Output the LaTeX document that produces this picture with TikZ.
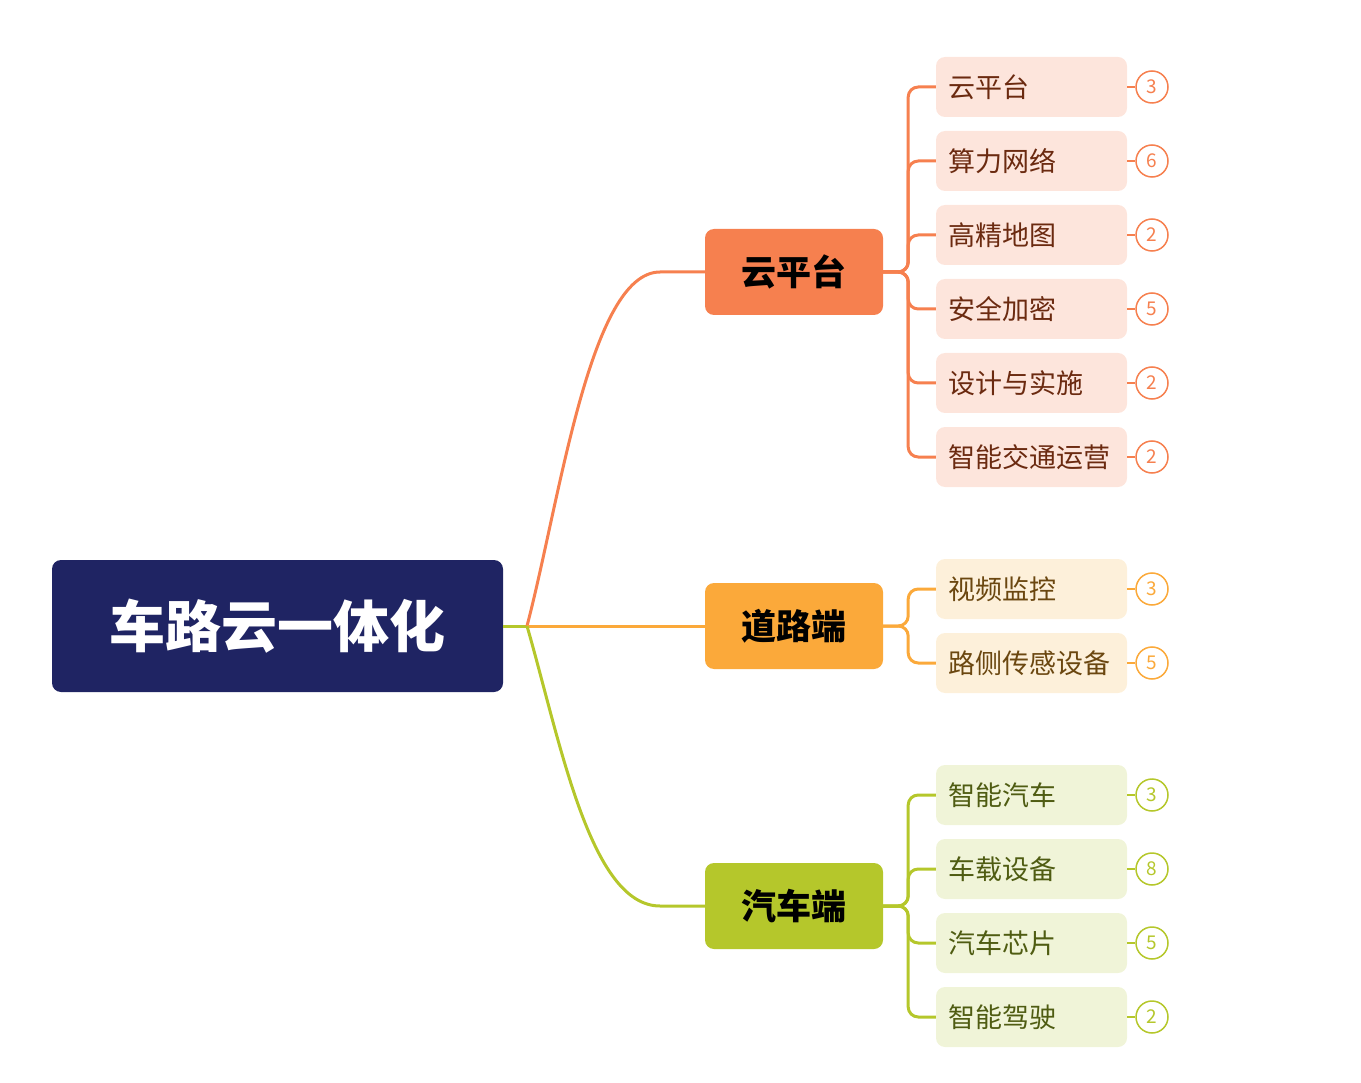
\documentclass[tikz,border=0pt]{standalone}
\usepackage{fontspec}
\setmainfont{Noto Sans CJK SC}
\definecolor{rootc}{HTML}{1F2463}
\definecolor{ca}{HTML}{F6804F}\definecolor{la}{HTML}{FDE5DC}\definecolor{ta}{HTML}{6B2A10}
\definecolor{cb}{HTML}{FBA93A}\definecolor{lb}{HTML}{FDF0DA}\definecolor{tb}{HTML}{6B4710}
\definecolor{cc}{HTML}{B5C72B}\definecolor{lc}{HTML}{F0F4D8}\definecolor{tc}{HTML}{4F5C12}
\tikzset{
 rootbox/.style={fill=rootc,rounded corners=9pt,minimum width=451pt,minimum height=132pt,text=white,font=\fontsize{56}{60}\selectfont\bfseries},
 brbox/.style={fill=#1,rounded corners=9pt,minimum width=178pt,minimum height=86pt,font=\fontsize{35}{40}\selectfont\bfseries},
 leafbox/.style={fill=#1,rounded corners=9pt,minimum width=191pt,minimum height=60pt},
 leaftext/.style={text=#1,font=\fontsize{27}{30}\selectfont,anchor=west},
 cnt/.style={circle,draw=#1,line width=1.5pt,fill=white,minimum size=32pt,inner sep=0pt,text=#1,font=\fontsize{19}{20}\selectfont},
 conn/.style={draw=#1,line width=3pt}
}
\begin{document}
\begin{tikzpicture}[x=1pt,y=-1pt]
\useasboundingbox (0,0) rectangle (1361,1083);
\node[rootbox] (root) at (277.5,626) {车路云一体化};
\coordinate (hub) at (527,626);
\node[brbox=ca] (A) at (794,272) {云平台};
\node[brbox=cb] (B) at (794,626) {道路端};
\node[brbox=cc] (C) at (794,906) {汽车端};
\draw[conn=cc] (root.east) -- (hub);
\draw[conn=ca] (hub) .. controls (560,500) and (590,272) .. (660,272) -- (A.west);
\draw[conn=cb] (hub) -- (B.west);
\draw[conn=cc] (hub) .. controls (560,740) and (590,906) .. (660,906) -- (C.west);
\newcommand\leaf[6]{%
 \node[leafbox=l#5] (#1) at (1031.5,#2) {};
 \node[leaftext=t#5] at (945,#2) {#3};
 \node[cnt=c#5] (#1n) at (1152,#2) {#4};
 \draw[conn=c#5,line width=2pt] (#1.east) -- (#1n.west);
 \draw[conn=c#5,rounded corners=10pt] (#6.east) -- ++(25,0) |- (#1.west);
}
\leaf{a1}{87}{云平台}{3}{a}{A}
\leaf{a2}{161}{算力网络}{6}{a}{A}
\leaf{a3}{235}{高精地图}{2}{a}{A}
\leaf{a4}{309}{安全加密}{5}{a}{A}
\leaf{a5}{383}{设计与实施}{2}{a}{A}
\leaf{a6}{457}{智能交通运营}{2}{a}{A}
\leaf{b1}{589}{视频监控}{3}{b}{B}
\leaf{b2}{663}{路侧传感设备}{5}{b}{B}
\leaf{c1}{795}{智能汽车}{3}{c}{C}
\leaf{c2}{869}{车载设备}{8}{c}{C}
\leaf{c3}{943}{汽车芯片}{5}{c}{C}
\leaf{c4}{1017}{智能驾驶}{2}{c}{C}
\end{tikzpicture}
\end{document}
